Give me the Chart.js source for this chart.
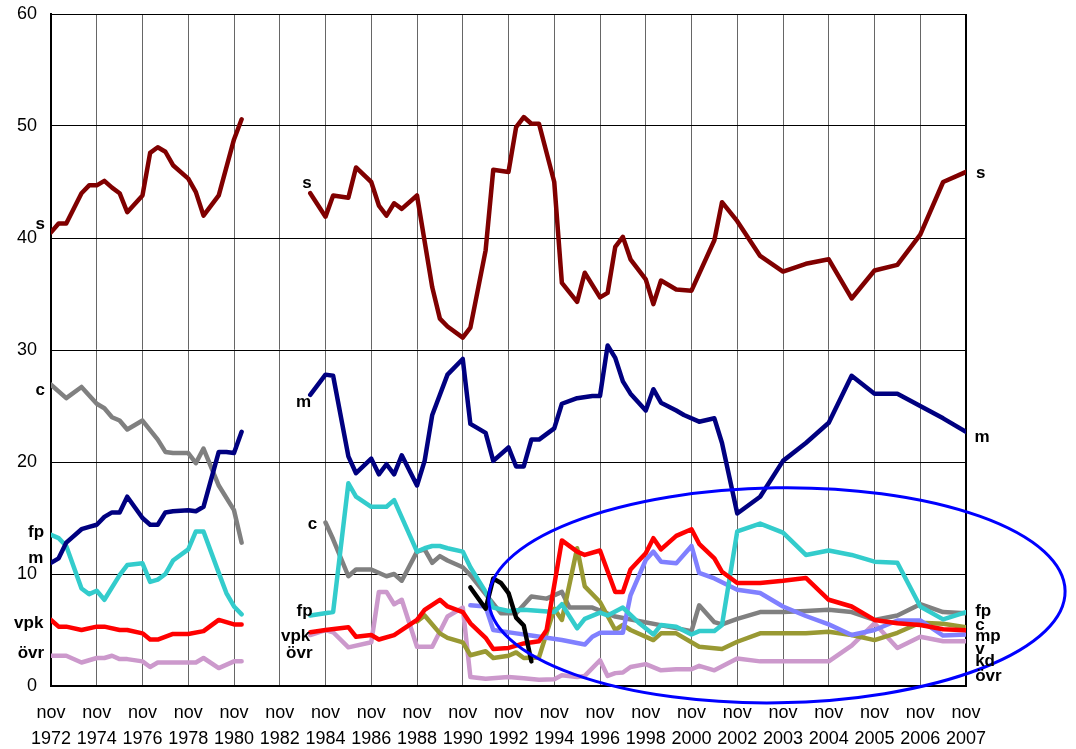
<!DOCTYPE html>
<html><head><meta charset="utf-8">
<script src="https://cdn.jsdelivr.net/npm/chart.js@4/dist/chart.umd.min.js"></script>
<style>html,body{margin:0;padding:0;background:#fff}#wrap{width:1076px;height:749px}</style>
</head><body><div id="wrap"><canvas id="c" width="1076" height="749"></canvas></div>
<script>
// x unit: 1/6 of a tick interval (ticks every 6 units)
const tickYears = ['1972','1974','1976','1978','1980','1982','1984','1986','1988','1990','1992','1994','1996','1998','2000','2002','2003','2004','2005','2006','2007'];

const sX = [0,1,2,4,5,6,7,8,9,10,12,13,14,15,16,18,19,20,22,24,25, 30,
  34,36,37,39,40,42,43,44,45,46,48,50,51,52,54,55,57,58,60,61,62,63,64,66,67,69,70,72,73,74,75,76,78,79,80,82,84,87,88,90,93,96,99,102,105,108,111,114,117,120];
const sY = [40.5,41.3,41.3,44.0,44.7,44.7,45.1,44.5,44.0,42.3,43.8,47.6,48.1,47.7,46.5,45.3,44.1,42.0,43.8,48.8,50.6, null,
  44.0,41.9,43.8,43.6,46.3,45.0,42.9,42.0,43.1,42.6,43.8,35.6,32.8,32.1,31.1,32.0,38.9,46.1,45.9,49.9,50.8,50.2,50.2,45.0,36.0,34.3,36.9,34.7,35.1,39.2,40.1,38.1,36.3,34.1,36.2,35.4,35.3,39.8,43.2,41.5,38.4,37.0,37.7,38.1,34.6,37.1,37.6,40.3,45.0,45.9];

const mX = [0,1,2,4,5,6,7,8,9,10,12,13,14,15,16,18,19,20,22,23,24,25, 30,
  34,36,37,39,40,42,43,44,45,46,48,49,50,52,54,55,57,58,60,61,62,63,64,66,67,69,71,72,73,74,75,76,78,79,80,82,83,85,87,88,90,93,96,99,102,105,108,111,114,117,120];
const mY = [11.0,11.4,12.8,14.0,14.2,14.4,15.1,15.5,15.5,16.9,15.0,14.4,14.4,15.5,15.6,15.7,15.6,16.0,20.9,20.9,20.8,22.7, null,
  26.0,27.8,27.7,20.5,19.0,20.3,18.9,19.8,18.9,20.6,17.9,20.1,24.2,27.8,29.2,23.4,22.6,20.1,21.3,19.6,19.6,22.0,22.0,23.0,25.2,25.7,25.9,25.9,30.4,29.3,27.2,26.1,24.6,26.5,25.3,24.6,24.2,23.6,23.9,21.7,15.4,16.9,20.1,21.7,23.5,27.7,26.1,26.1,25.0,23.9,22.7];

const cX = [0,2,4,6,7,8,9,10,12,14,15,16,18,19,20,22,24,25, 30,
  36,37,39,40,42,44,45,46,48,49,50,51,52,54,55,59,61,63,65,67,68,71,74,84,85,87,88,90,93,96,99,102,105,108,111,114,117,120];
const cY = [26.9,25.7,26.7,25.2,24.8,24.0,23.7,22.9,23.7,22.0,20.9,20.8,20.8,19.9,21.2,17.9,15.7,12.8, null,
  14.6,13.1,9.8,10.4,10.4,9.8,10.0,9.4,12.0,12.2,11.0,11.6,11.2,10.6,9.9,6.5,6.5,8.0,7.8,8.4,7.0,7.0,6.2,4.9,7.2,5.7,5.5,6.0,6.6,6.6,6.7,6.8,6.6,5.9,6.3,7.3,6.6,6.5];

const fpX = [0,1,2,4,5,6,7,9,10,12,13,14,15,16,18,19,20,22,23,24,25, 30,
  34,37,39,40,42,44,45,48,49,50,51,52,54,55,57,58,60,62,66,67,69,70,72,73,75,77,79,80,82,84,85,87,88,90,93,96,99,102,105,108,111,114,117,120];
const fpY = [13.5,13.2,12.5,8.7,8.2,8.5,7.7,9.9,10.8,10.95,9.3,9.5,10.0,11.2,12.2,13.8,13.8,10.1,8.3,7.1,6.4, null,
  6.3,6.6,18.1,16.9,16.0,16.0,16.6,12.0,12.3,12.5,12.5,12.3,12.0,10.6,8.4,7.0,6.7,6.8,6.6,7.3,5.15,6.0,6.55,6.3,7.0,5.7,4.6,5.45,5.3,4.6,4.9,4.9,5.45,13.8,14.5,13.7,11.7,12.1,11.7,11.1,11.0,7.1,5.95,6.6];

const vX = [0,1,2,4,6,7,9,10,12,13,14,16,18,20,22,24,25, 30,
  34,36,39,40,42,43,45,48,49,51,52,54,55,57,58,60,62,64,65,67,69,70,72,74,75,76,78,79,80,82,84,85,87,88,90,93,96,99,102,105,108,111,114,117,120];
const vY = [5.9,5.3,5.3,5.0,5.3,5.3,5.0,5.0,4.7,4.15,4.15,4.65,4.65,4.9,5.9,5.5,5.5, null,
  4.8,5.0,5.25,4.4,4.55,4.15,4.55,5.9,6.8,7.7,7.1,6.6,5.6,4.3,3.3,3.4,3.8,4.0,5.0,13.0,12.0,11.7,12.1,8.4,8.4,10.4,11.85,13.2,12.2,13.4,14.0,12.7,11.4,10.2,9.2,9.2,9.4,9.65,7.7,7.1,5.9,5.6,5.45,5.06,4.97];

const ovrX = [0,2,4,6,7,8,9,10,12,13,14,18,19,20,22,24,25, 30,
  34,36,37,39,42,43,44,45,46,48,50,52,54,55,57,60,62,64,66,67,69,70,72,73,74,75,76,78,80,82,84,85,87,90,93,96,99,102,105,108,111,114,117,120];
const ovrY = [2.7,2.7,2.1,2.5,2.5,2.7,2.4,2.4,2.2,1.7,2.1,2.1,2.1,2.5,1.6,2.2,2.2, null,
  4.55,5.0,4.8,3.45,3.9,8.4,8.4,7.3,7.7,3.5,3.5,6.2,7.0,0.8,0.65,0.8,0.7,0.55,0.6,0.95,0.8,0.9,2.3,0.9,1.15,1.2,1.7,1.95,1.4,1.5,1.5,1.8,1.4,2.45,2.2,2.2,2.2,2.2,3.6,5.6,3.4,4.4,4.0,4.0];

const mpX = [55,57,58,61,63,65,67,70,71,72,75,76,78,79,80,82,84,85,87,90,93,96,99,102,105,108,111,114,117,120];
const mpY = [7.2,7.1,5.0,4.7,4.5,4.3,4.1,3.7,4.4,4.75,4.75,8.1,11.25,12.0,11.1,10.95,12.5,10.1,9.6,8.6,8.3,7.1,6.25,5.5,4.55,5.0,5.85,5.85,4.5,4.6];

const kdX = [48,49,51,52,54,55,57,58,60,61,62,64,66,67,69,70,72,74,75,76,79,80,82,85,88,90,93,96,99,102,105,108,111,114,117,120];
const kdY = [5.75,6.3,4.7,4.3,3.9,2.75,3.1,2.5,2.7,3.0,2.5,2.55,6.9,5.9,12.3,8.9,7.5,5.0,5.45,5.0,4.1,4.7,4.7,3.5,3.3,3.95,4.7,4.7,4.7,4.85,4.55,4.1,4.75,5.65,5.55,5.25];

const nydX = [55,57,58,59,60,61,62,63];
const nydY = [8.8,6.9,9.6,9.2,8.3,6.1,5.4,2.2];

// line name labels: [text, x, y, align]
const lineLabels = [
  ['s',-0.8,40.78,'right'],['c',-0.8,25.98,'right'],['fp',-0.9,13.28,'right'],['m',-1.0,11.0,'right'],['vpk',-1.0,5.2,'right'],['övr',-0.9,2.53,'right'],
  ['s',34.2,44.49,'right'],['m',34.1,24.88,'right'],['c',34.9,14.02,'right'],['fp',34.3,6.25,'right'],['vpk',34.0,4.04,'right'],['övr',34.3,2.53,'right'],
  ['s',121.3,45.33,'left'],['m',121.1,21.81,'left'],['fp',121.2,6.28,'left'],['c',121.2,5.0,'left'],['mp',121.2,4.02,'left'],['v',121.2,2.83,'left'],['kd',121.2,1.79,'left'],['övr',121.2,0.45,'left']
];

// highlight ellipse in data units
const ellipseSpec = {cx:95.2, cy:8.1, rx:37.8, ry:9.6, rot:-0.015};

const FONT = '"Liberation Sans", Arial, sans-serif';
const pts = (xs, ys) => xs.map((x,i)=>({x:x, y:ys[i]}));
const ds = (label, xs, ys, color) => ({label, data:pts(xs,ys), borderColor:color, backgroundColor:color, spanGaps:false});

const overlay = {
  id:'overlay',
  afterDatasetsDraw(chart){
    const {ctx, scales:{x,y}} = chart;
    ctx.save();
    const e = ellipseSpec;
    const cx = x.getPixelForValue(e.cx), cy = y.getPixelForValue(e.cy);
    const rx = x.getPixelForValue(e.cx+e.rx)-cx, ry = cy - y.getPixelForValue(e.cy+e.ry);
    ctx.beginPath();
    ctx.ellipse(cx, cy, rx, ry, e.rot, 0, Math.PI*2);
    ctx.strokeStyle = '#0000FF'; ctx.lineWidth = 3; ctx.stroke();
    ctx.fillStyle = '#000';
    ctx.font = 'bold 17px ' + FONT;
    ctx.textBaseline = 'alphabetic';
    for (const [t, lx, ly, al] of lineLabels){
      ctx.textAlign = al;
      ctx.fillText(t, x.getPixelForValue(lx), y.getPixelForValue(ly));
    }
    ctx.restore();
  }
};

new Chart(document.getElementById('c'), {
  type:'line',
  data:{datasets:[
    ds('s', sX, sY, '#800000'),
    ds('m', mX, mY, '#000080'),
    ds('nyd', nydX, nydY, '#000000'),
    ds('v', vX, vY, '#FF0000'),
    ds('fp', fpX, fpY, '#33CCCC'),
    ds('mp', mpX, mpY, '#8080FF'),
    ds('kd', kdX, kdY, '#999933'),
    ds('c', cX, cY, '#808080'),
    ds('övr', ovrX, ovrY, '#CC99CC')
  ]},
  options:{
    responsive:false, animation:false, devicePixelRatio:1,
    layout:{padding:{top:14, right:110, left:0, bottom:0}},
    plugins:{legend:{display:false}, tooltip:{enabled:false}},
    elements:{point:{radius:0, hitRadius:0}, line:{borderWidth:4.5, tension:0, borderJoinStyle:'round', borderCapStyle:'round'}},
    scales:{
      x:{type:'linear', min:0, max:120,
        afterBuildTicks:s=>{ s.ticks = tickYears.map((_,i)=>({value:i*6})); },
        afterFit:s=>{ s.height = 63; },
        grid:{drawTicks:false, color:c=> (c.tick && c.tick.value===120) ? '#000' : '#666', lineWidth:c=> (c.tick && c.tick.value===120) ? 2 : 1},
        border:{color:'#000', width:2},
        ticks:{autoSkip:false, maxRotation:0, minRotation:0, padding:14, color:'#000', font:{family:FONT, size:18, lineHeight:1.45},
          callback:(v,i)=>['nov', tickYears[i]]}
      },
      y:{min:0, max:60,
        afterFit:s=>{ s.width = 51; s.paddingTop = 0; s.paddingBottom = 0; },
        grid:{drawTicks:false, color:'#000', lineWidth:1},
        border:{color:'#000', width:2},
        ticks:{stepSize:10, padding:14, color:'#000', font:{family:FONT, size:18}}
      }
    }
  },
  plugins:[overlay]
});
</script></body></html>
